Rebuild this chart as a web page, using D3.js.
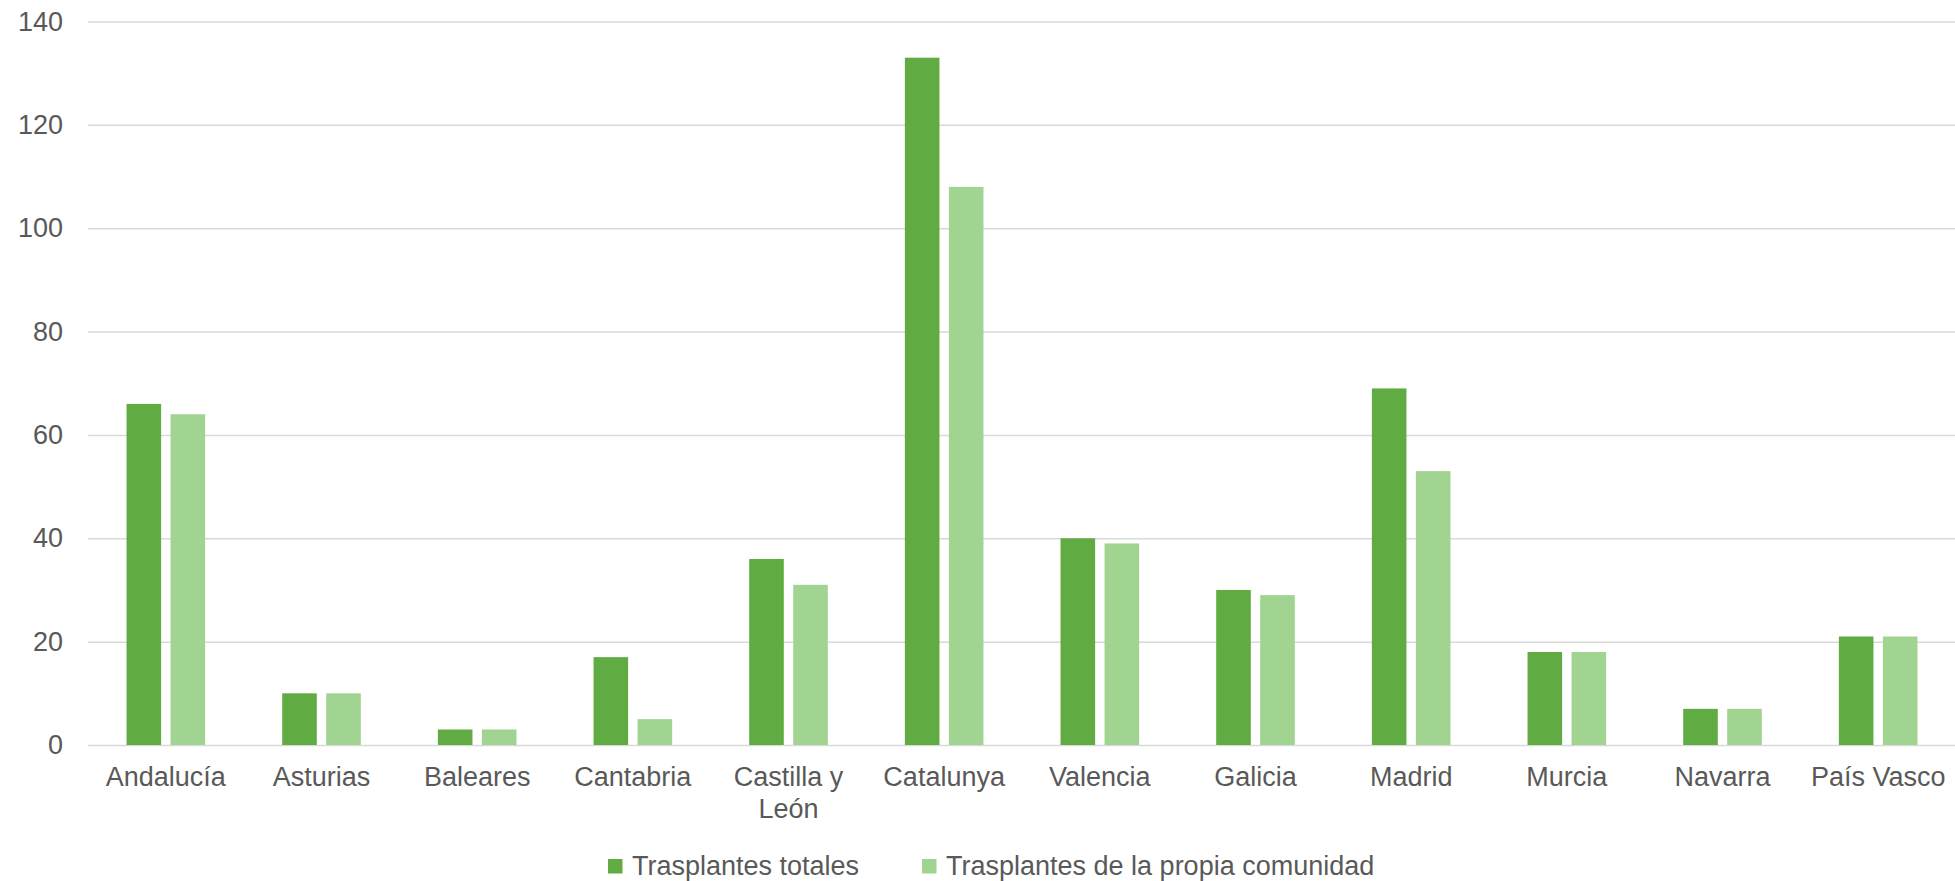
<!DOCTYPE html>
<meta charset="utf-8">
<head>
  <title>Trasplantes por comunidad</title>
  <style>
    body { margin: 0; background: #fff; }
    text { font-family: "Liberation Sans", Arial, sans-serif; fill: #595959; }
  </style>
</head>

<body>
  <svg width="1955" height="881"></svg>

  <script src="https://cdnjs.cloudflare.com/ajax/libs/d3/7.8.5/d3.min.js"></script>
  <script>
var regions = ['Andalucía', 'Asturias', 'Baleares', 'Cantabria', 'Castilla y León', 'Catalunya',
  'Valencia', 'Galicia', 'Madrid', 'Murcia', 'Navarra', 'País Vasco'];
var totales = [66, 10, 3, 17, 36, 133, 40, 30, 69, 18, 7, 21];
var propia = [64, 10, 3, 5, 31, 108, 39, 29, 53, 18, 7, 21];
var seriesNames = ['Trasplantes totales', 'Trasplantes de la propia comunidad'];
var yTicks = [0, 20, 40, 60, 80, 100, 120, 140];

var colors = ['#60ac42', '#a1d391'];

var svg = d3.select('svg');

var xScale = d3.scaleBand().domain(regions).range([88, 1956]);
var xInner = d3.scaleBand().domain([0, 1]).range([-39.3, 39.3]).paddingInner(0.214);
var yScale = d3.scaleLinear().domain([0, 140]).range([745, 21.5]);

// gridlines + y labels
var yAxis = d3.axisLeft(yScale)
  .tickValues(yTicks)
  .tickSize(-1868)
  .tickPadding(25);

svg.append('g')
  .attr('transform', 'translate(88, 0)')
  .call(yAxis)
  .call(function(g) {
    g.select('.domain').remove();
    g.selectAll('line').attr('stroke', '#d9d9d9').attr('stroke-width', 1.5);
    g.selectAll('text').style('font-size', '27px').attr('fill', '#595959')
      .attr('font-family', 'Liberation Sans, Arial, sans-serif');
  });

// bars
var groups = svg.append('g')
  .selectAll('g')
  .data(regions)
  .enter()
  .append('g')
  .attr('transform', function(d) {
    return 'translate(' + (xScale(d) + xScale.bandwidth() / 2) + ',0)';
  });

groups.selectAll('rect')
  .data(function(d, i) { return [totales[i], propia[i]]; })
  .enter()
  .append('rect')
  .attr('x', function(d, j) { return xInner(j); })
  .attr('width', xInner.bandwidth())
  .attr('y', function(d) { return yScale(d); })
  .attr('height', function(d) { return yScale(0) - yScale(d); })
  .style('fill', function(d, j) { return colors[j]; });

// x labels
var xAxis = d3.axisBottom(xScale).tickSize(0).tickPadding(22);

svg.append('g')
  .attr('transform', 'translate(0, 745)')
  .call(xAxis)
  .call(function(g) {
    g.select('.domain').remove();
    g.selectAll('text').style('font-size', '27px').attr('fill', '#595959')
      .attr('font-family', 'Liberation Sans, Arial, sans-serif')
      .call(wrap, 150);
  });

function wrap(texts, width) {
  texts.each(function() {
    var text = d3.select(this);
    var words = text.text().split(/\s+/);
    var y = text.attr('y');
    var dy = parseFloat(text.attr('dy'));
    var line = [];
    var lineNo = 0;
    var tspan = text.text(null).append('tspan').attr('x', 0).attr('y', y).attr('dy', dy + 'em');
    words.forEach(function(w) {
      line.push(w);
      tspan.text(line.join(' '));
      if (tspan.node().getComputedTextLength() > width && line.length > 1) {
        line.pop();
        tspan.text(line.join(' '));
        line = [w];
        lineNo++;
        tspan = text.append('tspan').attr('x', 0).attr('y', y)
          .attr('dy', (dy + lineNo * 1.19) + 'em').text(w);
      }
    });
  });
}

// legend
var legendX = [608, 922];
var legend = svg.append('g')
  .selectAll('g')
  .data(seriesNames)
  .enter()
  .append('g')
  .attr('transform', function(d, i) { return 'translate(' + legendX[i] + ', 859)'; });

legend.append('rect')
  .attr('width', 14.5)
  .attr('height', 14.5)
  .style('fill', function(d, i) { return colors[i]; });

legend.append('text')
  .attr('x', 24)
  .attr('y', 16)
  .style('font-size', '27px')
  .text(function(d) { return d; });
  </script>
</body>
</html>
